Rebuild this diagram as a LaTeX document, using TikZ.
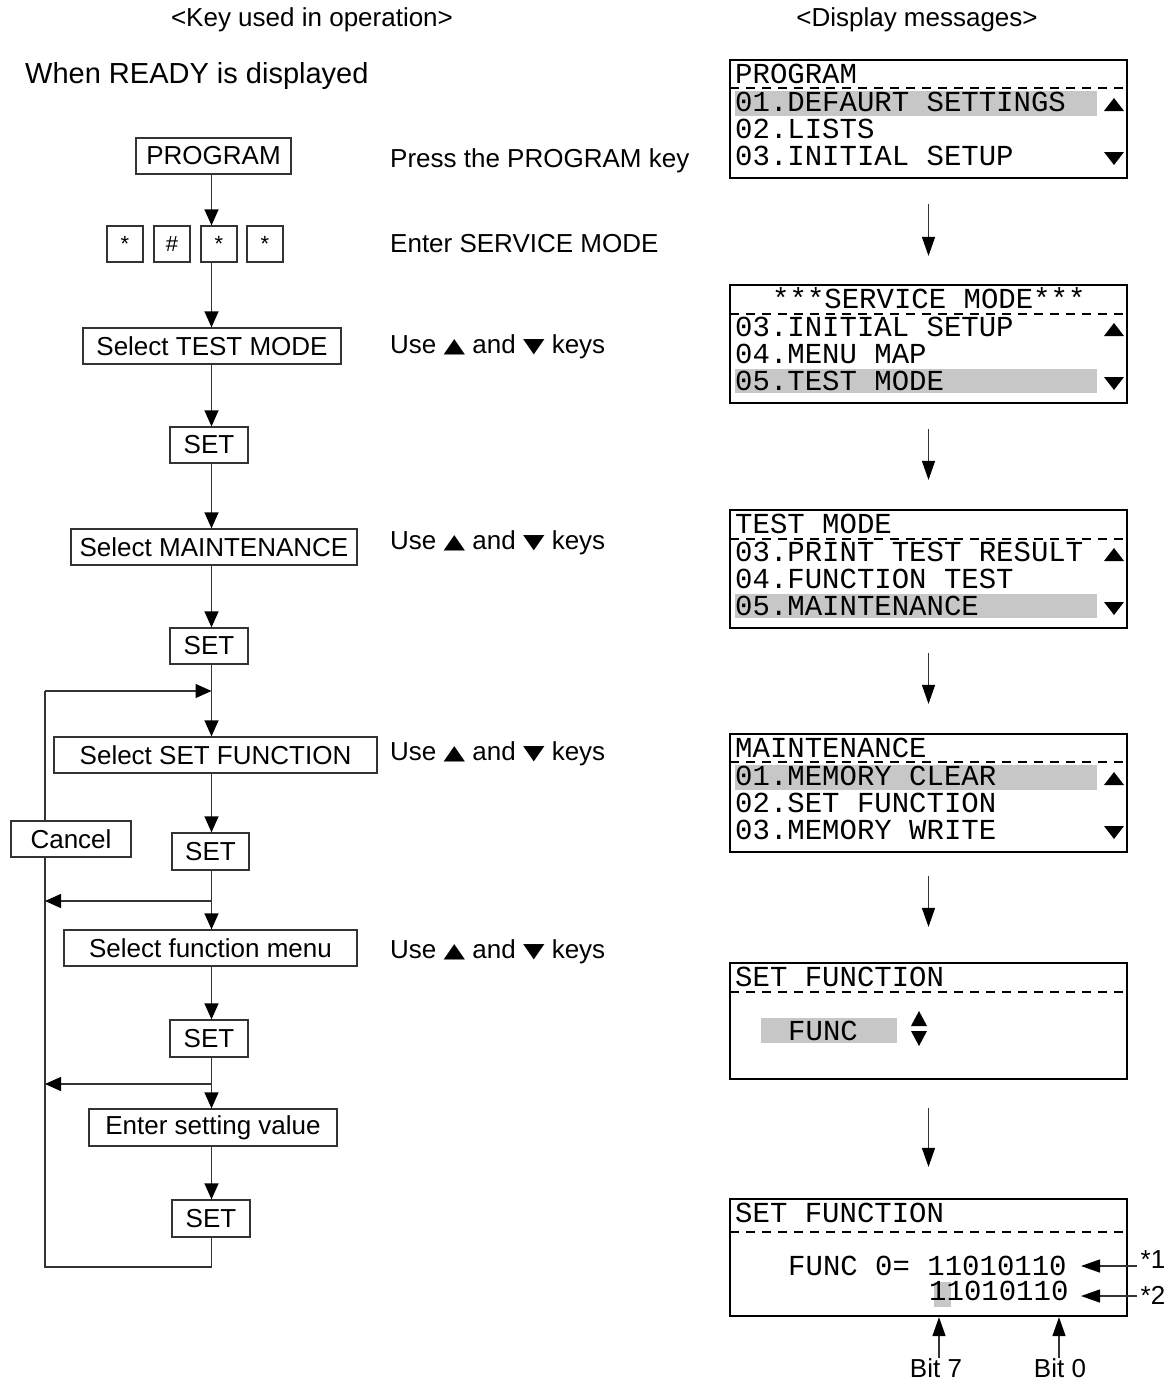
\documentclass[tikz,border=0pt]{standalone}
\usepackage{fontspec}
\setmainfont{Liberation Sans}
\newfontfamily\monofnt{Liberation Mono}
\newfontfamily\symfnt{DejaVu Sans}
\usetikzlibrary{arrows.meta}
\newcommand\sfsz{\fontsize{26}{30}\selectfont}
\newcommand\mosz{\monofnt\fontsize{29}{30}\selectfont}
\newcommand\tup{\raisebox{1pt}{\scalebox{1}[0.72]{\symfnt\fontsize{28}{30}\selectfont ▲}}}
\newcommand\tdn{\raisebox{1pt}{\scalebox{1}[0.72]{\symfnt\fontsize{28}{30}\selectfont ▼}}}
\tikzset{
  box/.style={draw=black!80, line width=1.3pt, fill=white, inner sep=0pt, font=\sfsz},
  keybox/.style={draw=black!80, line width=1.3pt, fill=white, inner sep=0pt, minimum width=36pt, minimum height=36pt, font=\fontsize{22}{24}\selectfont},
  flow/.style={draw=black!80, line width=1.4pt},
  arr/.style={flow, -{Triangle[length=16pt,width=14pt,color=black,fill=black]}},
  darr/.style={flow, -{Triangle[length=19pt,width=13pt,color=black,fill=black]}},
  disp/.style={draw=black, line width=2.2pt, inner sep=0pt, minimum width=397pt},
  mtxt/.style={anchor=base west, inner sep=0pt, font=\mosz, text height=18pt, text depth=1pt},
  lbl/.style={inner sep=0pt, font=\sfsz},
  hl/.style={fill=black!22},
  dsh/.style={draw=black, line width=1.1pt, dash pattern=on 9pt off 7pt},
}
\begin{document}
\begin{tikzpicture}[x=1pt,y=-1pt]
\useasboundingbox (0,0) rectangle (1170,1385);
% headers
\node[lbl] (h1) at (312,20) {<Key used in operation>};
\node[lbl] (h2) at (917,20) {<Display messages>};
\node[lbl, anchor=west, font=\fontsize{29}{32}\selectfont] (ready) at (25,76) {When READY is displayed};
% flow boxes
\coordinate (cx) at (211.5,0);
\node[box, minimum width=155pt, minimum height=36pt] (prog) at (213.5,156) {PROGRAM};
\node[keybox] (k1) at (125,244) {*};
\node[keybox] (k2) at (172,244) {\#};
\node[keybox] (k3) at (219,244) {*};
\node[keybox] (k4) at (265,244) {*};
\node[box, minimum width=258pt, minimum height=36pt] (tm) at (212,346) {Select TEST MODE};
\node[box, minimum width=78pt, minimum height=36pt] (s1) at (209,445) {SET};
\node[box, minimum width=286pt, minimum height=36pt] (mt) at (214,547) {Select MAINTENANCE};
\node[box, minimum width=78pt, minimum height=36pt] (s2) at (209,646) {SET};
\node[box, minimum width=323pt, minimum height=36pt] (sf) at (215.5,755) {Select SET FUNCTION};
\node[box, minimum width=120pt, minimum height=36pt] (cancel) at (71,839) {Cancel};
\node[box, minimum width=77pt, minimum height=37pt] (s3) at (210.5,851.5) {SET};
\node[box, minimum width=293pt, minimum height=36pt] (fm) at (210.5,948) {Select function menu};
\node[box, minimum width=78pt, minimum height=37pt] (s4) at (209,1038.5) {SET};
\node[box, minimum width=248pt, minimum height=37pt] (es) at (213,1127.5) {Enter setting value};
\node[box, minimum width=78pt, minimum height=37pt] (s5) at (211,1218.5) {SET};
\coordinate (j1) at (211.5,691);
\coordinate (j2) at (211.5,901);
\coordinate (j3) at (211.5,1084);
\coordinate (bl) at (45,1267);
% flow connectors
\draw[arr] (prog.south -| cx) -- (k3.north -| cx);
\draw[arr] (k3.south -| cx) -- (tm.north -| cx);
\draw[arr] (tm.south -| cx) -- (s1.north -| cx);
\draw[arr] (s1.south -| cx) -- (mt.north -| cx);
\draw[arr] (mt.south -| cx) -- (s2.north -| cx);
\draw[arr] (s2.south -| cx) -- (sf.north -| cx);
\draw[arr] (sf.south -| cx) -- (s3.north -| cx);
\draw[arr] (s3.south -| cx) -- (fm.north -| cx);
\draw[arr] (fm.south -| cx) -- (s4.north -| cx);
\draw[arr] (s4.south -| cx) -- (es.north -| cx);
\draw[arr] (es.south -| cx) -- (s5.north -| cx);
\draw[flow] (s5.south -| cx) |- (bl) -- (cancel.south -| bl);
\draw[flow] (cancel.north -| bl) -- (j1 -| bl);
\draw[arr] (j1 -| bl) -- (j1);
\draw[arr] (j2) -- (j2 -| bl);
\draw[arr] (j3) -- (j3 -| bl);
% middle texts
\node[lbl, anchor=west] (t1) at (390,161) {Press the PROGRAM key};
\node[lbl, anchor=west] (t2) at (390,244) {Enter SERVICE MODE};
\node[lbl, anchor=west] (t3) at (390,347) {Use \tup\ and \tdn\ keys};
\node[lbl, anchor=west] (t4) at (390,543) {Use \tup\ and \tdn\ keys};
\node[lbl, anchor=west] (t5) at (390,754) {Use \tup\ and \tdn\ keys};
\node[lbl, anchor=west] (t6) at (390,952) {Use \tup\ and \tdn\ keys};
% ---------- display 1 (T=60)
\fill[hl] (735,91) rectangle (1097,116);
\draw[dsh] (730,88) -- (1127,88);
\node[mtxt] (d1a) at (735,83) {PROGRAM};
\node[mtxt] (d1b) at (735,111) {01.DEFAURT SETTINGS};
\node[mtxt] (d1c) at (735,138) {02.LISTS};
\node[mtxt] (d1d) at (735,165) {03.INITIAL SETUP};
\fill (1104,111) -- (1124,111) -- (1114,98) -- cycle;
\fill (1104,152) -- (1124,152) -- (1114,165) -- cycle;
\node[disp, minimum height=118pt] (d1) at (928.5,119) {};
% ---------- display 2 (T=285)
\fill[hl] (735,369) rectangle (1097,393);
\draw[dsh] (730,314) -- (1127,314);
\node[mtxt] (d2a) at (772,308) {***SERVICE MODE***};
\node[mtxt] (d2b) at (735,336) {03.INITIAL SETUP};
\node[mtxt] (d2c) at (735,363) {04.MENU MAP};
\node[mtxt] (d2d) at (735,390) {05.TEST MODE};
\fill (1104,336) -- (1124,336) -- (1114,323) -- cycle;
\fill (1104,377) -- (1124,377) -- (1114,390) -- cycle;
\node[disp, minimum height=118pt] (d2) at (928.5,344) {};
% ---------- display 3 (T=510)
\fill[hl] (735,594) rectangle (1097,618);
\draw[dsh] (730,539) -- (1127,539);
\node[mtxt] (d3a) at (735,533) {TEST MODE};
\node[mtxt] (d3b) at (735,561) {03.PRINT TEST RESULT};
\node[mtxt] (d3c) at (735,588) {04.FUNCTION TEST};
\node[mtxt] (d3d) at (735,615) {05.MAINTENANCE};
\fill (1104,561) -- (1124,561) -- (1114,548) -- cycle;
\fill (1104,602) -- (1124,602) -- (1114,615) -- cycle;
\node[disp, minimum height=118pt] (d3) at (928.5,569) {};
% ---------- display 4 (T=734)
\fill[hl] (735,765) rectangle (1097,790);
\draw[dsh] (730,762) -- (1127,762);
\node[mtxt] (d4a) at (735,757) {MAINTENANCE};
\node[mtxt] (d4b) at (735,785) {01.MEMORY CLEAR};
\node[mtxt] (d4c) at (735,812) {02.SET FUNCTION};
\node[mtxt] (d4d) at (735,839) {03.MEMORY WRITE};
\fill (1104,785) -- (1124,785) -- (1114,772) -- cycle;
\fill (1104,826) -- (1124,826) -- (1114,839) -- cycle;
\node[disp, minimum height=118pt] (d4) at (928.5,793) {};
% ---------- display 5 (T=963)
\fill[hl] (761,1018) rectangle (897,1043);
\draw[dsh] (730,992) -- (1127,992);
\node[mtxt] (d5a) at (735,986) {SET FUNCTION};
\node[mtxt] (d5b) at (788,1040) {FUNC};
\fill (911,1026) -- (927,1026) -- (919,1011) -- cycle;
\fill (911,1031) -- (927,1031) -- (919,1046) -- cycle;
\node[disp, minimum height=116pt] (d5) at (928.5,1021) {};
% ---------- display 6 (T=1199)
\fill[hl] (934,1282) rectangle (951,1307);
\draw[dsh] (730,1232) -- (1127,1232);
\node[mtxt] (d6a) at (735,1222) {SET FUNCTION};
\node[mtxt] (d6b) at (788,1275) {FUNC 0= 11010110};
\node[mtxt] (d6c) at (929,1300) {11010110};
\node[disp, minimum height=117pt] (d6) at (928.5,1257.5) {};
% display connectors
\draw[darr] ([yshift=-25pt]d1.south) -- ([yshift=28pt]d2.north);
\draw[darr] ([yshift=-25pt]d2.south) -- ([yshift=29pt]d3.north);
\draw[darr] ([yshift=-24pt]d3.south) -- ([yshift=29pt]d4.north);
\draw[darr] ([yshift=-23pt]d4.south) -- ([yshift=35pt]d5.north);
\draw[darr] ([yshift=-28pt]d5.south) -- ([yshift=31pt]d6.north);
% *1 *2
\node[lbl] (st1) at (1153,1260) {*1};
\node[lbl] (st2) at (1153,1295) {*2};
\coordinate (a1s) at (1137,1266);
\coordinate (a1e) at (1081,1266);
\coordinate (a2s) at (1137,1296);
\coordinate (a2e) at (1081,1296);
\draw[darr] (a1s) -- (a1e);
\draw[darr] (a2s) -- (a2e);
% bits
\node[lbl] (b7) at (936,1368) {Bit 7};
\node[lbl] (b0) at (1060,1368) {Bit 0};
\coordinate (b7x) at (939,0);
\coordinate (b0x) at (1059,0);
\draw[darr] (b7.north -| b7x) -- (d6.south -| b7x);
\draw[darr] (b0.north -| b0x) -- (d6.south -| b0x);
\end{tikzpicture}
\end{document}
